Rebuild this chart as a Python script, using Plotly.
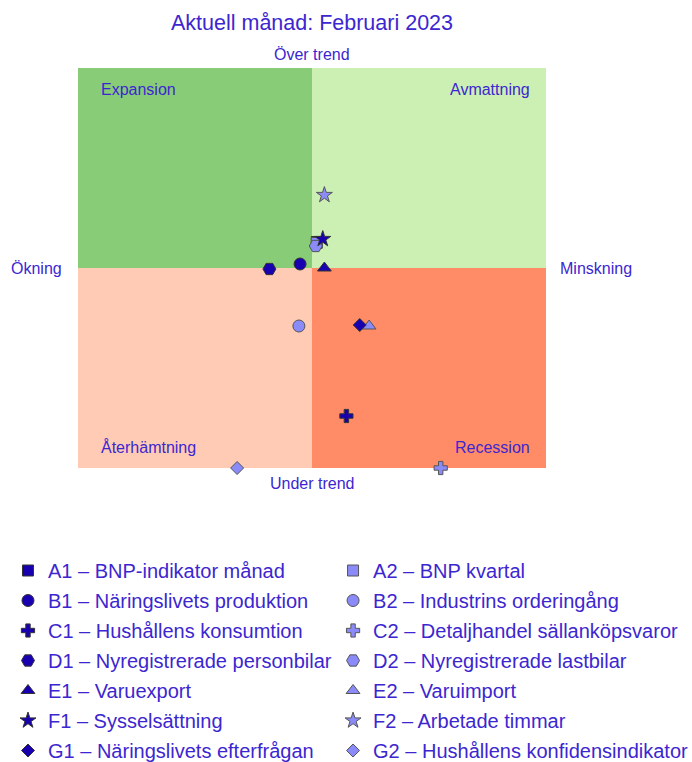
import plotly.graph_objects as go

# ---------------- Data ---------------- #
codes = ["A1", "A2", "B1", "B2", "C1", "C2", "D1", "D2", "E1", "E2", "F1", "F2", "G1", "G2"]
names = ["BNP-indikator månad", "BNP kvartal",
         "Näringslivets produktion", "Industrins orderingång",
         "Hushållens konsumtion", "Detaljhandel sällanköpsvaror",
         "Nyregistrerade personbilar", "Nyregistrerade lastbilar",
         "Varuexport", "Varuimport",
         "Sysselsättning", "Arbetade timmar",
         "Näringslivets efterfrågan", "Hushållens konfidensindikator"]
symbols = ["square", "square", "circle", "circle", "cross", "cross", "hexagon2", "hexagon2",
           "triangle-up", "triangle-up", "star", "star", "diamond", "diamond"]
sizes = [11, 11, 12, 12, 11, 11, 13, 13, 12, 12, 12, 12, 10, 10]
# change (x) and level relative to trend (y)
x_vals = [0.021, 0.020, -0.051, -0.056, 0.147, 0.55, -0.182, 0.016, 0.053, 0.244, 0.046, 0.053, 0.204, -0.32]
y_vals = [0.13, 0.125, 0.02, -0.29, -0.74, -1.0, -0.005, 0.11, 0.0, -0.29, 0.145, 0.365, -0.285, -1.0]

dark = "#1800b0"
light = "#8a8af8"
txt = "#3c26d0"
fnt = "Liberation Sans, Arial"

# ---------------- Figure ---------------- #
fig = go.Figure()

for i, code in enumerate(codes):
    is_dark = code.endswith("1")
    fig.add_trace(go.Scatter(
        x=[x_vals[i]], y=[y_vals[i]],
        mode="markers",
        name=f"{code} – {names[i]}",
        legendgroup=code,
        legend="legend" if is_dark else "legend2",
        cliponaxis=False,
        marker=dict(symbol=symbols[i], size=sizes[i],
                    color=dark if is_dark else light,
                    line=dict(color="#333333" if is_dark else "#555555", width=1))
    ))

# Quadrants
quads = [(-1, 0, 0, 1, "#88cc77"), (0, 1, 0, 1, "#ccf0b4"),
         (-1, 0, -1, 0, "#ffcbb4"), (0, 1, -1, 0, "#ff8c66")]
for x0, x1, y0, y1, col in quads:
    fig.add_shape(type="rect", x0=x0, x1=x1, y0=y0, y1=y1, fillcolor=col,
                  line_width=0, layer="below")

lab = dict(family=fnt, size=16, color=txt)
fig.add_annotation(x=-0.91, y=0.895, text="Expansion", showarrow=False, xanchor="left", font=lab)
fig.add_annotation(x=0.94, y=0.895, text="Avmattning", showarrow=False, xanchor="right", font=lab)
fig.add_annotation(x=-0.91, y=-0.895, text="Återhämtning", showarrow=False, xanchor="left", font=lab)
fig.add_annotation(x=0.94, y=-0.895, text="Recession", showarrow=False, xanchor="right", font=lab)
side = dict(xref="paper", yref="paper", showarrow=False, font=lab, xanchor="center", yanchor="middle")
fig.add_annotation(x=0.5, y=1.035, text="Över trend", **side)
fig.add_annotation(x=0.5, y=-0.0375, text="Under trend", **side)
fig.add_annotation(x=-0.0897, y=0.5, text="Ökning", **side)
fig.add_annotation(x=1.106, y=0.5, text="Minskning", **side)

leg = dict(orientation="v", yanchor="top", y=-0.2075,
           font=dict(family=fnt, size=20, color=txt), tracegroupgap=1,
           bgcolor="rgba(0,0,0,0)", traceorder="grouped")

fig.update_layout(
    width=692, height=762,
    font_family=fnt,
    paper_bgcolor="white", plot_bgcolor="white",
    margin=dict(l=78, r=146, t=68, b=294, autoexpand=False),
    title=dict(text="Aktuell månad: Februari 2023", x=0.5, xref="paper", xanchor="center",
               y=1 - 22 / 762, yref="container", yanchor="middle",
               font=dict(family=fnt, size=21.5, color=txt)),
    xaxis=dict(range=[-1, 1], visible=False, fixedrange=True),
    yaxis=dict(range=[-1, 1], visible=False, fixedrange=True),
    legend=dict(leg, x=-0.1496),
    legend2=dict(leg, x=0.545),
)

# drop the page margin so the figure fills the window exactly
fig.write_html("out.html", config={"displayModeBar": False},
               post_script="document.body.style.margin='0';document.body.style.overflow='hidden';")
